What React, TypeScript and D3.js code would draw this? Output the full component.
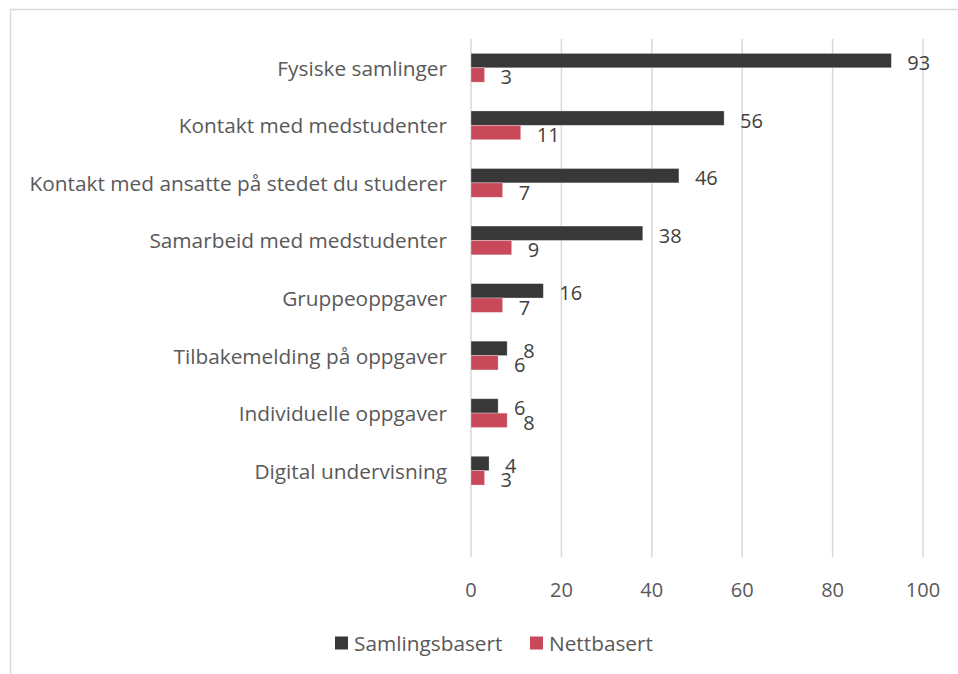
import React from "react";
import * as d3 from "d3";

const categories = [
  "Fysiske samlinger",
  "Kontakt med medstudenter",
  "Kontakt med ansatte på stedet du studerer",
  "Samarbeid med medstudenter",
  "Gruppeoppgaver",
  "Tilbakemelding på oppgaver",
  "Individuelle oppgaver",
  "Digital undervisning",
  "",
];
const seriesNames = ["Samlingsbasert", "Nettbasert"];
const samlingsbasert = [93, 56, 46, 38, 16, 8, 6, 4];
const nettbasert = [3, 11, 7, 9, 7, 6, 8, 3];
const xTicks = [0, 20, 40, 60, 80, 100];

const colors = ["#383838", "#C8495A"];
const textColor = "#595959";
const font = "'Open Sans', 'Noto Sans', sans-serif";

export default function App() {
  const W = 958;
  const H = 674;
  const x = d3.scaleLinear().domain([0, 100]).range([471, 923]);
  const y = d3.scaleBand<string>().domain(categories.map((c, i) => String(i))).range([39, 557]);
  const inner = d3
    .scaleBand<string>()
    .domain(seriesNames)
    .range([y.bandwidth() * 0.25, y.bandwidth() * 0.75]);
  const series = [samlingsbasert, nettbasert];
  const fsCat = 20.8;
  const fsNum = 20;

  return (
    <svg
      width={W}
      height={H}
      style={{ position: "absolute", left: 0, top: 0, background: "#fff" }}
      fontFamily={font}
    >
      <rect x={10.5} y={9.5} width={960} height={700} fill="#fff" stroke="#d9d9d9" strokeWidth={1.5} />
      {xTicks.map((t) => (
        <g key={t}>
          <line x1={x(t)} x2={x(t)} y1={39} y2={557} stroke="#d9d9d9" strokeWidth={1.5} />
          <text x={x(t)} y={589} textAnchor="middle" dominantBaseline="central" fill={textColor} fontSize={fsNum}>
            {t}
          </text>
        </g>
      ))}
      {categories.map((c, i) => {
        const y0 = y(String(i))!;
        return (
          <g key={i}>
            <text
              x={447}
              y={y0 + y.bandwidth() / 2}
              textAnchor="end"
              dominantBaseline="central"
              fill={textColor}
              fontSize={fsCat}
            >
              {c}
            </text>
            {series.map((vals, s) => {
              const v = vals[i];
              if (v === undefined) return null;
              const by = y0 + inner(seriesNames[s])!;
              return (
                <g key={s}>
                  <rect
                    x={x(0)}
                    y={by}
                    width={x(v) - x(0)}
                    height={inner.bandwidth()}
                    fill={colors[s]}
                    stroke="#ffffff"
                    strokeOpacity={0.4}
                    strokeWidth={0.75}
                  />
                  <text
                    x={x(v) + 16}
                    y={by + inner.bandwidth() / 2 + 2}
                    dominantBaseline="central"
                    fill="#404040"
                    fontSize={fsNum}
                  >
                    {v}
                  </text>
                </g>
              );
            })}
          </g>
        );
      })}
      {seriesNames.map((n, i) => {
        const lx = [335, 530][i];
        return (
          <g key={n}>
            <rect x={lx} y={636.5} width={13} height={13} fill={colors[i]} />
            <text x={lx + 19} y={643} dominantBaseline="central" fill={textColor} fontSize={fsCat}>
              {n}
            </text>
          </g>
        );
      })}
    </svg>
  );
}
